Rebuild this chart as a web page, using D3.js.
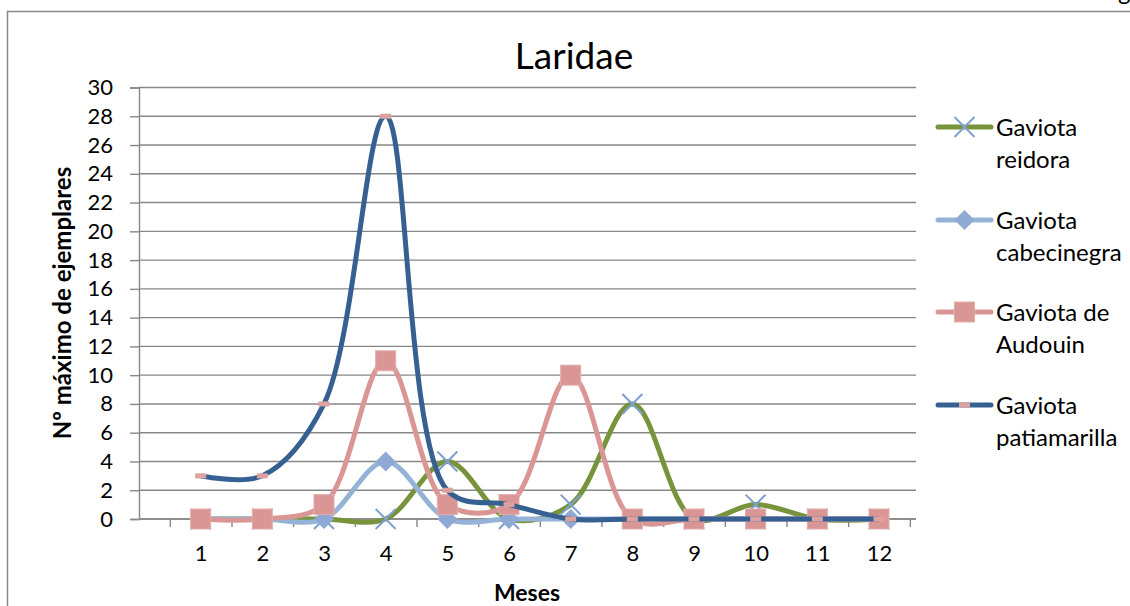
<!DOCTYPE html>
<html><head><meta charset="utf-8">
<script src="https://cdn.jsdelivr.net/npm/d3@7"></script>
<style>
body{margin:0;background:#fff;overflow:hidden;}
text{font-family:Lato,"Noto Sans",sans-serif;fill:#000;}
</style>
</head><body>
<svg id="chart" width="1130" height="606"></svg>
<script>
// ---- data ----
const months = [1,2,3,4,5,6,7,8,9,10,11,12];
const reidora      = [0,0,0,0,4,0,1,8,0,1,0,0];
const cabecinegra  = [0,0,0,4,0,0,0,0,0,0,0,0];
const audouin      = [0,0,1,11,1,1,10,0,0,0,0,0];
const patiamarilla = [3,3,8,28,2,1,0,0,0,0,0,0];
const yTicks = [0,2,4,6,8,10,12,14,16,18,20,22,24,26,28,30];
const seriesNames = ["Gaviota reidora","Gaviota cabecinegra","Gaviota de Audouin","Gaviota patiamarilla"];
const legendLines = [["Gaviota","reidora"],["Gaviota","cabecinegra"],["Gaviota de","Audouin"],["Gaviota","patiamarilla"]];
const titleText = "Laridae";
const xTitle = "Meses";
const yTitle = "Nº máximo de ejemplares";

// ---- styles ----
const styles = [
  {line:"#77933C", marker:"x", mcolor:"#7F9FD0"},
  {line:"#95B3D7", marker:"diamond", mcolor:"#8EA9D3"},
  {line:"#D99694", marker:"square", mcolor:"#D99694"},
  {line:"#376092", marker:"dash", mcolor:"#DDA2A0"}
];
const allSeries = [reidora, cabecinegra, audouin, patiamarilla];

const svg = d3.select("#chart");
const gray = "#878787";

// outer border
svg.append("rect").attr("x",7.5).attr("y",11.5).attr("width",1140).attr("height",620)
  .attr("fill","none").attr("stroke",gray).attr("stroke-width",1.5);
svg.append("text").attr("x",1118).attr("y",0).attr("font-size",24).text("g");

const x = d3.scaleLinear().domain([0,12.6]).range([139,916]);
const y = d3.scaleLinear().domain([0,30]).range([519,87.5]);

// gridlines
svg.append("g").selectAll("line").data(yTicks).join("line")
  .attr("x1",139).attr("x2",916).attr("y1",d=>y(d)).attr("y2",d=>y(d))
  .attr("stroke",gray).attr("stroke-width",1.4);

// y axis
const yAxis = svg.append("g").attr("transform","translate(139,0)")
  .call(d3.axisLeft(y).tickValues(yTicks).tickSize(9).tickPadding(17));
yAxis.select(".domain").attr("stroke",gray).attr("stroke-width",1.4);
yAxis.selectAll(".tick line").attr("stroke",gray).attr("stroke-width",1.4);
yAxis.selectAll(".tick text").attr("font-size",22).attr("font-family","Lato").attr("fill","#000");

// x axis ticks (between categories)
const xTickVals = months.map(m=>m-0.5).concat([12.5]);
const xAxis = svg.append("g").attr("transform","translate(0,519)")
  .call(d3.axisBottom(x).tickValues(xTickVals).tickSize(8).tickFormat(""));
xAxis.select(".domain").attr("stroke",gray).attr("stroke-width",1.4).attr("d","M139,0H916");
xAxis.selectAll(".tick line").attr("stroke",gray).attr("stroke-width",1.4);
// x labels
const xLab = svg.append("g").attr("transform","translate(0,519)")
  .call(d3.axisBottom(x).tickValues(months).tickSize(0).tickPadding(26).tickFormat(d3.format("d")));
xLab.select(".domain").remove();
xLab.selectAll(".tick text").attr("font-size",22).attr("font-family","Lato").attr("fill","#000");

// titles
svg.append("text").attr("x",574).attr("y",69).attr("text-anchor","middle")
  .attr("font-size",37).text(titleText);
svg.append("text").attr("x",527).attr("y",601).attr("text-anchor","middle")
  .attr("font-size",23).attr("font-weight","bold").text(xTitle);
svg.append("text").attr("transform","translate(71,303) rotate(-90)").attr("text-anchor","middle")
  .attr("font-size",24).attr("font-weight","bold").text(yTitle);

// markers
function drawMarker(g, type, color, cx, cy){
  if(type==="x"){
    const h=10;
    g.append("path").attr("d",`M${cx-h},${cy-h}L${cx+h},${cy+h}M${cx-h},${cy+h}L${cx+h},${cy-h}`)
      .attr("stroke",color).attr("stroke-width",2).attr("fill","none");
  } else if(type==="diamond"){
    const h=10;
    g.append("path").attr("d",`M${cx},${cy-h}L${cx+h},${cy}L${cx},${cy+h}L${cx-h},${cy}Z`).attr("fill",color);
  } else if(type==="square"){
    g.append("rect").attr("x",cx-10).attr("y",cy-10).attr("width",20).attr("height",20)
      .attr("fill",color).attr("stroke","#E2AEAC").attr("stroke-width",1);
  } else if(type==="dash"){
    g.append("rect").attr("x",cx-5.5).attr("y",cy-2.5).attr("width",11).attr("height",5).attr("fill",color);
  }
}

const line = d3.line().x((d,i)=>x(months[i])).y(d=>y(d)).curve(d3.curveCatmullRom.alpha(0.5));
allSeries.forEach((vals,si)=>{
  const g = svg.append("g");
  g.append("path").datum(vals).attr("d",line).attr("fill","none")
    .attr("stroke",styles[si].line).attr("stroke-width",5).attr("stroke-linejoin","round");
  vals.forEach((v,i)=>drawMarker(g, styles[si].marker, styles[si].mcolor, x(months[i]), y(v)));
});

// legend
const legY = [127,220,312,405];
seriesNames.forEach((name,si)=>{
  const g = svg.append("g");
  g.append("line").attr("x1",938).attr("x2",991).attr("y1",legY[si]).attr("y2",legY[si])
    .attr("stroke",styles[si].line).attr("stroke-width",5).attr("stroke-linecap","round");
  drawMarker(g, styles[si].marker, styles[si].mcolor, 964.5, legY[si]);
  legendLines[si].forEach((t,li)=>{
    g.append("text").attr("x",996).attr("y",legY[si]+9+li*32).attr("font-size",24).text(t);
  });
});
</script>
</body></html>
